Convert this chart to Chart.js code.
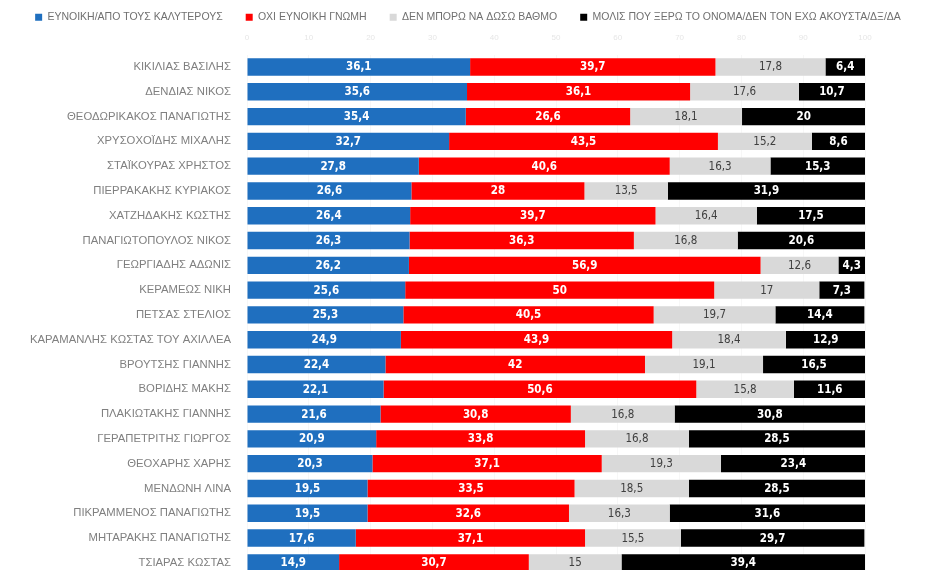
<!DOCTYPE html>
<html>
<head>
<meta charset="utf-8">
<style>
  html, body { margin: 0; padding: 0; background: #fff; overflow: hidden; }
  #wrap { width: 926px; height: 590px; }
</style>
</head>
<body>
<div id="wrap"><canvas id="myChart"></canvas></div>

<script src="https://cdn.jsdelivr.net/npm/chart.js/dist/chart.umd.min.js"></script>
<script>
  const names = [
    'ΚΙΚΙΛΙΑΣ ΒΑΣΙΛΗΣ', 'ΔΕΝΔΙΑΣ ΝΙΚΟΣ', 'ΘΕΟΔΩΡΙΚΑΚΟΣ ΠΑΝΑΓΙΩΤΗΣ', 'ΧΡΥΣΟΧΟΪΔΗΣ ΜΙΧΑΛΗΣ',
    'ΣΤΑΪΚΟΥΡΑΣ ΧΡΗΣΤΟΣ', 'ΠΙΕΡΡΑΚΑΚΗΣ ΚΥΡΙΑΚΟΣ', 'ΧΑΤΖΗΔΑΚΗΣ ΚΩΣΤΗΣ', 'ΠΑΝΑΓΙΩΤΟΠΟΥΛΟΣ ΝΙΚΟΣ',
    'ΓΕΩΡΓΙΑΔΗΣ ΑΔΩΝΙΣ', 'ΚΕΡΑΜΕΩΣ ΝΙΚΗ', 'ΠΕΤΣΑΣ ΣΤΕΛΙΟΣ', 'ΚΑΡΑΜΑΝΛΗΣ ΚΩΣΤΑΣ ΤΟΥ ΑΧΙΛΛΕΑ',
    'ΒΡΟΥΤΣΗΣ ΓΙΑΝΝΗΣ', 'ΒΟΡΙΔΗΣ ΜΑΚΗΣ', 'ΠΛΑΚΙΩΤΑΚΗΣ ΓΙΑΝΝΗΣ', 'ΓΕΡΑΠΕΤΡΙΤΗΣ ΓΙΩΡΓΟΣ',
    'ΘΕΟΧΑΡΗΣ ΧΑΡΗΣ', 'ΜΕΝΔΩΝΗ ΛΙΝΑ', 'ΠΙΚΡΑΜΜΕΝΟΣ ΠΑΝΑΓΙΩΤΗΣ', 'ΜΗΤΑΡΑΚΗΣ ΠΑΝΑΓΙΩΤΗΣ',
    'ΤΣΙΑΡΑΣ ΚΩΣΤΑΣ'
  ];

  const seriesNames = [
    'ΕΥΝΟΙΚΗ/ΑΠΟ ΤΟΥΣ ΚΑΛΥΤΕΡΟΥΣ',
    'ΟΧΙ ΕΥΝΟΙΚΗ ΓΝΩΜΗ',
    'ΔΕΝ ΜΠΟΡΩ ΝΑ ΔΩΣΩ ΒΑΘΜΟ',
    'ΜΟΛΙΣ ΠΟΥ ΞΕΡΩ ΤΟ ΟΝΟΜΑ/ΔΕΝ ΤΟΝ ΕΧΩ ΑΚΟΥΣΤΑ/ΔΞ/ΔΑ'
  ];

  const favourable = [36.1, 35.6, 35.4, 32.7, 27.8, 26.6, 26.4, 26.3, 26.2, 25.6, 25.3, 24.9, 22.4, 22.1, 21.6, 20.9, 20.3, 19.5, 19.5, 17.6, 14.9];
  const unfavourable = [39.7, 36.1, 26.6, 43.5, 40.6, 28, 39.7, 36.3, 56.9, 50, 40.5, 43.9, 42, 50.6, 30.8, 33.8, 37.1, 33.5, 32.6, 37.1, 30.7];
  const cantRate = [17.8, 17.6, 18.1, 15.2, 16.3, 13.5, 16.4, 16.8, 12.6, 17, 19.7, 18.4, 19.1, 15.8, 16.8, 16.8, 19.3, 18.5, 16.3, 15.5, 15];
  const barelyKnow = [6.4, 10.7, 20, 8.6, 15.3, 31.9, 17.5, 20.6, 4.3, 7.3, 14.4, 12.9, 16.5, 11.6, 30.8, 28.5, 23.4, 28.5, 31.6, 29.7, 39.4];

  const xTicks = [0, 10, 20, 30, 40, 50, 60, 70, 80, 90, 100];

  const colors = ['#1f6fbf', '#ff0000', '#d9d9d9', '#000000'];
  const labelColors = ['#ffffff', '#ffffff', '#404040', '#ffffff'];

  const labelFont = '"DejaVu Sans Condensed", "Liberation Sans Narrow", sans-serif';

  // values in the middle of each segment
  const barValues = {
    id: 'barValues',
    afterDatasetsDraw(chart) {
      const { ctx } = chart;
      ctx.save();
      ctx.textAlign = 'center';
      ctx.textBaseline = 'middle';
      chart.data.datasets.forEach((ds, i) => {
        const meta = chart.getDatasetMeta(i);
        ctx.fillStyle = labelColors[i];
        ctx.font = (i === 2 ? '' : 'bold ') + '11.5px ' + labelFont;
        meta.data.forEach((bar, j) => {
          const v = ds.data[j];
          const cx = (bar.x + bar.base) / 2;
          ctx.fillText(String(v).replace('.', ','), cx, bar.y + 0.5);
        });
      });
      ctx.restore();
    }
  };

  const chartData = {
    labels: names,
    datasets: [favourable, unfavourable, cantRate, barelyKnow].map((d, i) => ({
      label: seriesNames[i],
      data: d,
      backgroundColor: colors[i],
      borderWidth: 0,
      barPercentage: 0.7,
      categoryPercentage: 1
    }))
  };

  const config = {
    type: 'bar',
    data: chartData,
    options: {
      indexAxis: 'y',
      responsive: true,
      maintainAspectRatio: false,
      animation: false,
      layout: { padding: { left: 10, right: 0, top: -11, bottom: 2 } },
      scales: {
        x: {
          position: 'top',
          stacked: true,
          min: 0,
          max: 100,
          afterBuildTicks: axis => { axis.ticks = xTicks.map(v => ({ value: v })); },
          ticks: {
            color: '#e6e6e6',
            font: { size: 8, family: 'Liberation Sans' },
            padding: 12
          },
          grid: { color: 'rgba(0,0,0,0.03)', drawTicks: false },
          border: { display: false }
        },
        y: {
          stacked: true,
          afterFit: axis => { axis.width = 237; },
          ticks: {
            color: '#808080',
            font: { size: 11.3, family: 'Liberation Sans' },
            padding: 8,
            autoSkip: false
          },
          grid: { display: false },
          border: { display: false }
        },
        // empty axis that only keeps the white margin on the right
        side: {
          type: 'linear',
          position: 'right',
          display: true,
          afterFit: axis => { axis.width = 61; },
          ticks: { display: false },
          grid: { display: false },
          border: { display: false }
        }
      },
      plugins: {
        legend: {
          position: 'top',
          maxHeight: 32,
          labels: {
            boxWidth: 7,
            boxHeight: 7,
            padding: 23,
            color: '#707070',
            font: { size: 10.5, family: 'Liberation Sans' }
          }
        },
        tooltip: { enabled: false }
      }
    },
    plugins: [barValues]
  };

  const myChart = new Chart(document.getElementById('myChart'), config);
</script>
</body>
</html>
